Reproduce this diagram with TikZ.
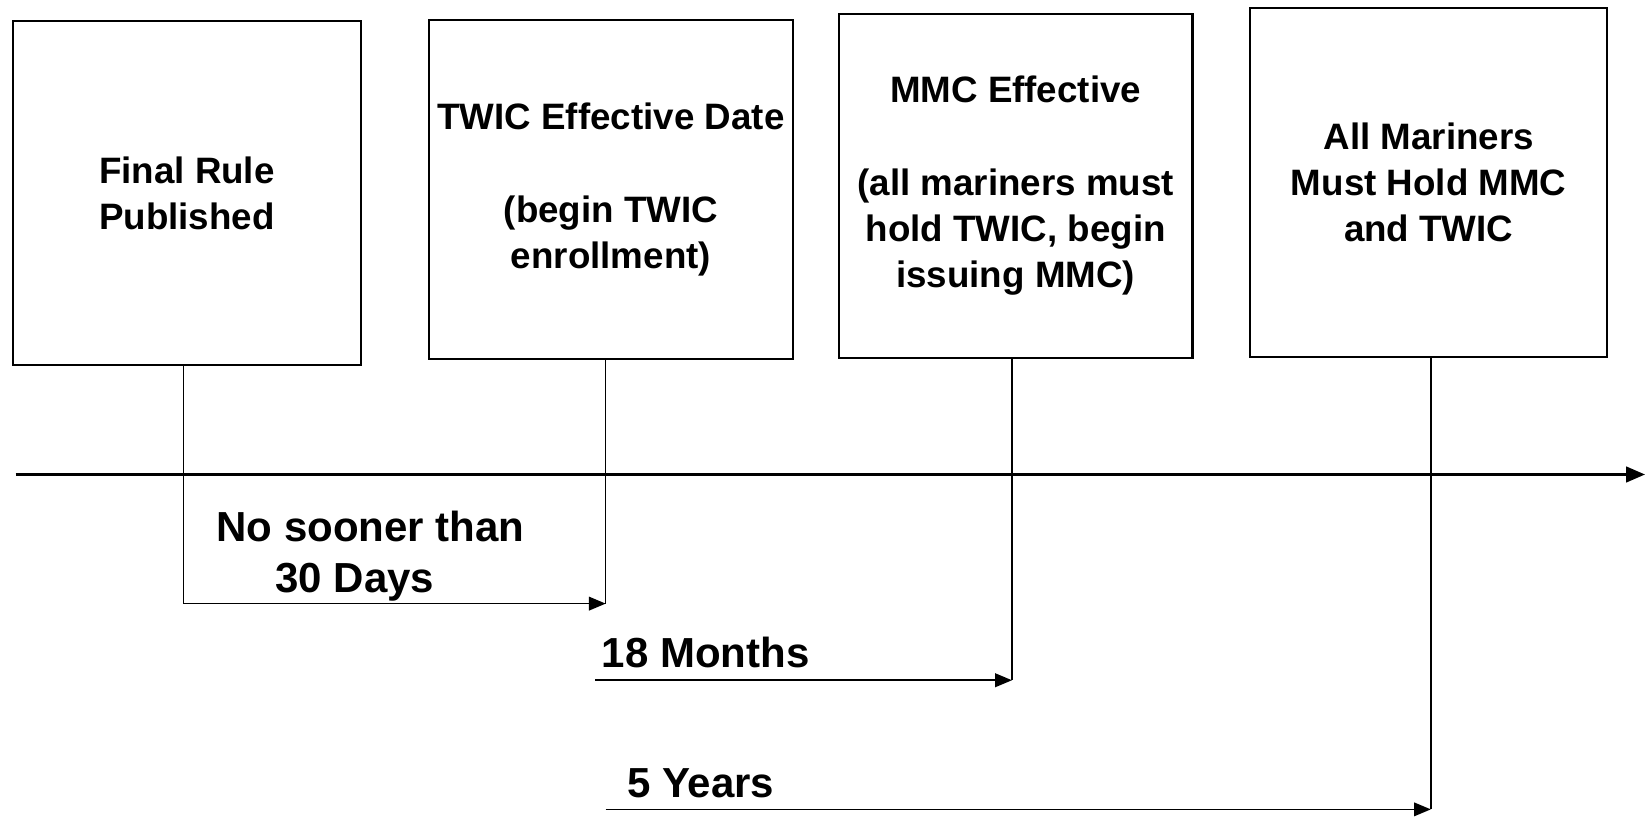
\documentclass[tikz,border=0pt]{standalone}
\usepackage{fontspec}
\setmainfont{Liberation Sans}
\usetikzlibrary{positioning, arrows.meta}

\tikzset{
  event/.style={draw, line width=1pt, anchor=north west, align=center, inner sep=2pt,
    font=\bfseries\fontsize{17.5}{22}\selectfont},
  drop/.style={line width=0.7pt},
  span/.style={line width=0.8pt, -{Triangle[length=8pt,width=6.5pt]}},
  period/.style={anchor=base west, inner sep=0pt, align=left,
    font=\bfseries\fontsize{20}{24}\selectfont}
}

\begin{document}
\begin{tikzpicture}[x=0.5pt, y=-0.5pt]
    \useasboundingbox (0,0) rectangle (1568,778);

    \node(pub)[event, minimum width=166pt, minimum height=164pt] at (11,19) {Final Rule\\Published};
    \node(twic)[event, minimum width=173pt, minimum height=161.5pt] at (408,18) {TWIC Effective Date\\[22pt](begin TWIC\\enrollment)};
    \node(mmc)[event, minimum width=168.5pt, minimum height=164pt] at (798,12) {MMC Effective\\[22pt](all mariners must\\hold TWIC, begin\\issuing MMC)};
    \node(all)[event, minimum width=170pt, minimum height=166pt] at (1190,7) {All Mariners\\Must Hold MMC\\and TWIC};

    % time line and the moments on it
    \coordinate (start) at (15,452);
    \coordinate (end) at (1567,452);
    \coordinate (m1) at (175,452);
    \coordinate (m2) at (577,452);
    \coordinate (m3) at (964,452);
    \coordinate (m4) at (1363,452);
    \coordinate (s18) at (567,648);
    \coordinate (s5) at (577,771);
    \coordinate (lvl30) at (0,575);

    \draw[span, line width=1pt, -{Triangle[length=9pt,width=7.5pt]}] (start) -- (end);

    \draw[drop] (m1 |- pub.south) -- (m1 |- lvl30);
    \draw[drop] (m2 |- twic.south) -- (m2 |- lvl30);
    \draw[drop] (m3 |- mmc.south) -- (m3 |- s18);
    \draw[drop] (m4 |- all.south) -- (m4 |- s5);

    \draw[span] (m1 |- lvl30) -- (m2 |- lvl30);
    \draw[span] (s18) -- (m3 |- s18);
    \draw[span] (s5) -- (m4 |- s5);

    \node(l30)[period] at (206,564) {No sooner than\\\hspace*{28pt}30 Days};
    \node(l18)[period] at (573,636) {18 Months};
    \node(l5)[period] at (597,760) {5 Years};

\end{tikzpicture}
\end{document}
